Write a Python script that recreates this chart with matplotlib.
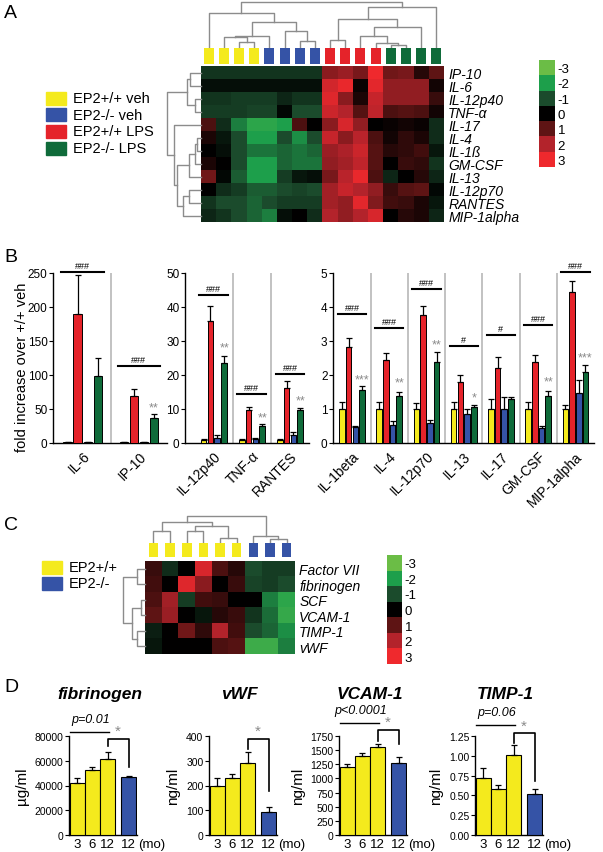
import numpy as np
import matplotlib
matplotlib.use("Agg")
import matplotlib.pyplot as plt
from matplotlib.colors import LinearSegmentedColormap
from matplotlib.patches import Rectangle

plt.rcParams['font.family'] = ['Liberation Sans', 'DejaVu Sans']
plt.rcParams['axes.linewidth'] = 1.0

W, H = 603, 853

# colours
hm_colors = ['#6bbd46', '#1d9f4c', '#1b4b2c', '#000000', '#5e1414', '#b3232b', '#ef292d']
grp_colors = ['#f4ea1d', '#3553a6', '#e5232a', '#0f6b3a']
cmap = LinearSegmentedColormap.from_list('gr', hm_colors)

# ---------------- panel A data ----------------
a_rows = ['IP-10', 'IL-6', 'IL-12p40', 'TNF-α', 'IL-17', 'IL-4', 'IL-1ß', 'GM-CSF',
          'IL-13', 'IL-12p70', 'RANTES', 'MIP-1alpha']
a_groups = ['EP2+/+ veh', 'EP2-/- veh', 'EP2+/+ LPS', 'EP2-/- LPS']
a_sample_group = [0, 0, 0, 0, 1, 1, 1, 1, 2, 2, 2, 2, 3, 3, 3, 3]
a_values = [
    [-0.7, -0.7, -0.7, -0.7, -0.7, -0.7, -0.7, -0.7, 1.5, 1.7, 1.3, 3.0, 1.2, 1.3, 0.4, 1.0],
    [-0.2, -0.2, -0.2, -0.2, -0.2, -0.2, -0.2, -0.2, 2.5, 2.9, 0.1, 2.8, 1.6, 1.6, 1.6, 0.2],
    [-0.7, -0.7, -0.8, -0.8, -0.8, -0.5, -0.7, -0.7, 2.7, 1.5, 0.3, 2.3, 1.6, 1.6, 1.6, 0.6],
    [-0.8, -0.8, -0.8, -0.9, -0.9, -0.1, -1.0, -1.0, 2.4, 2.0, 0.9, 2.2, 0.8, 0.9, 0.8, 0.2],
    [0.8, -0.6, -1.6, -2.2, -2.2, -2.0, 0.8, 0.0, 1.5, 2.6, 1.6, 0.0, 0.1, 0.2, 0.1, -0.6],
    [0.3, -0.3, -1.0, -2.0, -2.0, -1.0, -1.8, -1.0, 2.3, 1.5, 2.1, 0.8, 0.2, 0.5, 0.3, -0.6],
    [0.0, -0.2, -1.0, -1.5, -1.5, -1.3, -1.5, -1.3, 1.7, 1.9, 2.4, 0.9, 0.4, 0.5, 0.7, -0.3],
    [0.3, 0.0, -1.0, -2.0, -2.0, -1.3, -1.5, -1.5, 1.6, 1.8, 2.2, 0.9, 0.0, 0.6, 0.5, -0.7],
    [1.2, -0.1, -1.2, -2.0, -2.0, -0.8, -0.3, -0.2, 1.3, 2.1, 2.9, 0.8, -0.5, 0.0, 0.4, -0.5],
    [0.0, -0.6, -0.8, -1.2, -1.2, -1.0, -0.9, -1.0, 1.8, 2.3, 2.0, 1.6, 0.6, 0.9, 1.0, -0.1],
    [-0.7, -1.0, -1.0, -1.3, -1.0, -0.8, -0.8, -0.8, 1.8, 1.6, 2.8, 1.4, 0.7, 0.6, 0.3, -0.3],
    [-0.5, -0.7, -1.0, -1.3, -1.6, -0.2, 0.0, -0.6, 2.0, 1.6, 2.0, 2.6, 0.0, 0.4, 0.3, -0.5],
]
# clustering trees: (child a, child b, merge height), new nodes numbered after the leaves
a_col_merges = [(2, 3, 15), (1, 16, 30), (17, 4, 33), (6, 7, 17), (5, 19, 50), (18, 20, 77),
                (0, 21, 103), (12, 13, 5), (11, 23, 12), (10, 24, 33), (25, 14, 60),
                (8, 9, 20), (27, 26, 85), (28, 15, 123), (22, 29, 137)]
a_row_merges = [(0, 1, 28), (2, 3, 15), (12, 13, 35), (5, 6, 10), (15, 7, 16), (16, 8, 30),
                (9, 10, 30), (18, 11, 47), (17, 19, 62), (4, 20, 70), (14, 21, 88)]

# ---------------- panel B data ----------------
b_labels = ['IL-6', 'IP-10', 'IL-12p40', 'TNF-α', 'RANTES', 'IL-1beta', 'IL-4',
            'IL-12p70', 'IL-13', 'IL-17', 'GM-CSF', 'MIP-1alpha']
b_panel = [0, 0, 1, 1, 1, 2, 2, 2, 2, 2, 2, 2]
b_veh_wt = [1, 1, 1, 1, 1, 1, 1, 1, 1, 1, 1, 1]
b_veh_ko = [1, 1, 1.5, 1.2, 2.5, 0.47, 0.53, 0.58, 0.86, 1.0, 0.45, 1.47]
b_lps_wt = [190, 69, 35.9, 9.7, 16.2, 2.83, 2.44, 3.76, 1.79, 2.2, 2.39, 4.44]
b_lps_ko = [98.5, 37, 23.5, 5.0, 9.7, 1.56, 1.38, 2.38, 1.07, 1.28, 1.38, 2.08]
b_veh_wt_err = [0.5, 0.5, 0.2, 0.2, 0.2, 0.2, 0.22, 0.18, 0.2, 0.3, 0.22, 0.13]
b_veh_ko_err = [0.3, 0.3, 0.8, 0.4, 0.8, 0.03, 0.12, 0.1, 0.15, 0.35, 0.05, 0.39]
b_lps_wt_err = [57, 10, 4.4, 0.9, 2.0, 0.25, 0.21, 0.26, 0.2, 0.32, 0.2, 0.32]
b_lps_ko_err = [26.5, 6, 2.1, 0.6, 0.7, 0.12, 0.13, 0.29, 0.06, 0.07, 0.16, 0.21]
b_hash = ['###', '###', '###', '###', '###', '###', '###', '###', '#', '#', '###', '###']
b_hash_y = [251, 113, 43.5, 14.4, 20.3, 3.8, 3.38, 4.53, 2.85, 3.18, 3.47, 5.03]
b_star = ['', '**', '**', '**', '**', '***', '**', '**', '*', '', '**', '***']
b_star_y = [0, 53, 28.2, 7.6, 12.6, 1.88, 1.79, 2.91, 1.35, 0, 1.8, 2.53]
b_ymax = [250, 50, 5]
b_ystep = [50, 10, 1]

# ---------------- panel C data ----------------
c_rows = ['Factor VII', 'fibrinogen', 'SCF', 'VCAM-1', 'TIMP-1', 'vWF']
c_groups = ['EP2+/+', 'EP2-/-']
c_sample_group = [0, 0, 0, 0, 0, 0, 1, 1, 1]
c_values = [
    [0.6, -0.6, 0.0, 2.6, 0.8, 0.4, -1.0, -0.8, -0.8],
    [0.7, 0.0, 2.7, 1.5, 0.0, 0.6, -0.9, -0.8, -1.0],
    [0.8, 1.8, -0.8, 0.7, 0.6, 0.0, 0.0, -1.6, -2.2],
    [1.0, 1.7, 0.0, -0.3, 0.4, 0.6, -0.7, -1.4, -2.3],
    [-0.4, 0.0, 1.2, 0.5, 2.0, 0.7, -1.0, -1.3, -1.8],
    [-0.3, 0.0, 0.0, 0.0, 0.8, 0.9, -2.4, -2.4, -1.6],
]
c_col_merges = [(0, 1, 35), (2, 3, 35), (4, 5, 13), (10, 11, 48), (9, 12, 63),
                (7, 8, 10), (6, 14, 20), (13, 15, 80)]
c_row_merges = [(0, 1, 7.7), (2, 3, 4), (4, 5, 7.7), (7, 8, 13.5), (6, 9, 22)]

# ---------------- panel D data ----------------
d_titles = ['fibrinogen', 'vWF', 'VCAM-1', 'TIMP-1']
d_units = ['µg/ml', 'ng/ml', 'ng/ml', 'ng/ml']
d_ages = ['3', '6', '12', '12']
d_bar_group = [0, 0, 0, 1]
d_means = [[41900, 52300, 61700, 47000], [196, 232, 289, 94],
           [1210, 1398, 1556, 1280], [0.726, 0.587, 1.007, 0.516]]
d_errs = [[4000, 3000, 5700, 800], [33, 13, 48, 19],
          [41, 47, 58, 106], [0.117, 0.046, 0.13, 0.063]]
d_yticks = [[0, 20000, 40000, 60000, 80000], [0, 100, 200, 300, 400],
            [0, 250, 500, 750, 1000, 1250, 1500, 1750],
            [0.0, 0.25, 0.5, 0.75, 1.0, 1.25]]
d_ytick_fmt = ['{:.0f}', '{:.0f}', '{:.0f}', '{:.2f}']
d_pvals = ['p=0.01', '', 'p<0.0001', 'p=0.06']
d_pline_y = [83500, 0, 1973, 1.388]
d_bracket_top = [77800, 389, 1856, 1.284]
d_bracket_left = [72000, 346, 1662, 1.166]
d_bracket_right = [55000, 178, 1603, 0.684]

fig = plt.figure(figsize=(W / 100, H / 100), dpi=100)


def px_axes(x0, y0, x1, y1):
    return fig.add_axes([x0 / W, 1 - y1 / H, (x1 - x0) / W, (y1 - y0) / H])


ov = fig.add_axes([0, 0, 1, 1])
ov.set_xlim(0, W)
ov.set_ylim(H, 0)
ov.axis('off')


def heatmap(box, values, rows, fs):
    ax = px_axes(*box)
    ax.imshow(np.array(values), cmap=cmap, vmin=-3, vmax=3, aspect='auto',
              interpolation='nearest')
    ax.set_xticks([])
    ax.yaxis.tick_right()
    ax.set_yticks(range(len(rows)))
    ax.set_yticklabels(rows, fontsize=fs, style='italic')
    ax.tick_params(axis='y', length=0, pad=3)
    for s in ax.spines.values():
        s.set_visible(False)
    return ax


def sample_squares(box, groups, colors, width):
    ax = px_axes(*box)
    n = len(groups)
    ax.bar(range(n), 1, width=width, color=[colors[g] for g in groups])
    ax.set_xlim(-0.5, n - 0.5)
    ax.set_ylim(0, 1)
    ax.axis('off')


def dendro(box, merges, n, orient):
    ax = px_axes(*box)
    pos = {i: float(i) for i in range(n)}
    hgt = {i: 0.0 for i in range(n)}
    for k, (a, b, h) in enumerate(merges):
        xs = [pos[a], pos[a], pos[b], pos[b]]
        ys = [hgt[a], h, h, hgt[b]]
        if orient == 'top':
            ax.plot(xs, ys, color='#8c8c8c', lw=1.0, clip_on=False)
        else:
            ax.plot(ys, xs, color='#8c8c8c', lw=1.0, clip_on=False)
        pos[n + k] = (pos[a] + pos[b]) / 2
        hgt[n + k] = h
    hmax = max(m[2] for m in merges)
    if orient == 'top':
        ax.set_xlim(-0.5, n - 0.5)
        ax.set_ylim(0, hmax)
    else:
        ax.set_ylim(n - 0.5, -0.5)
        ax.set_xlim(hmax, 0)
    ax.axis('off')


def colorkey(box, fs):
    ax = px_axes(*box)
    levels = np.arange(-3, 4)
    ax.imshow(levels[:, None], cmap=cmap, vmin=-3, vmax=3, aspect='auto')
    ax.set_xticks([])
    ax.yaxis.tick_right()
    ax.set_yticks(range(7))
    ax.set_yticklabels([str(v) for v in levels], fontsize=fs)
    ax.tick_params(length=0, pad=2)
    for s in ax.spines.values():
        s.set_visible(False)


def legend(x, y0, pitch, labels, colors, fs):
    for i, lab in enumerate(labels):
        yc = y0 + i * pitch
        ov.add_patch(Rectangle((x, yc - 6.5), 20, 13, color=colors[i]))
        ov.text(x + 27, yc, lab, fontsize=fs, va='center', ha='left')


# ---------------- panel A ----------------
ov.text(4, 13, 'A', fontsize=14, va='center')
dendro((201, 3, 444, 48), a_col_merges, 16, 'top')
sample_squares((201, 49, 444, 65), a_sample_group, grp_colors, 0.66)
heatmap((201, 67, 444, 223), a_values, a_rows, 10)
dendro((167, 67, 201, 223), a_row_merges, 12, 'left')
colorkey((539, 61, 555, 168), 9.5)
legend(46, 99, 16.7, a_groups, grp_colors, 10.5)

# ---------------- panel B ----------------
ov.text(4, 257, 'B', fontsize=14, va='center')
b_boxes = [(53, 274, 167, 444), (185, 274, 309, 444), (333, 274, 594, 444)]
b_xlims = [(-0.53, 1.5), (-0.76, 2.5), (-0.51, 6.5)]
series = [(b_veh_wt, b_veh_wt_err), (b_lps_wt, b_lps_wt_err),
          (b_veh_ko, b_veh_ko_err), (b_lps_ko, b_lps_ko_err)]
offsets = [-0.27, -0.09, 0.09, 0.27]
b_axes = []
for p in range(3):
    ax = px_axes(*b_boxes[p])
    b_axes.append(ax)
    idx = [i for i in range(len(b_labels)) if b_panel[i] == p]
    x = np.arange(len(idx))
    for s, (vals, errs) in enumerate(series):
        v = np.array([vals[i] for i in idx])
        e = np.array([errs[i] for i in idx])
        col = grp_colors[[0, 2, 1, 3][s]]
        ax.bar(x + offsets[s], v, width=0.15, color=col, edgecolor='black', lw=0.7, zorder=3)
        ax.errorbar(x + offsets[s], v, yerr=[np.zeros_like(e), e], fmt='none',
                    ecolor='black', elinewidth=0.9, capsize=2, capthick=0.9, zorder=4)
    for j in range(len(idx) - 1):
        ax.axvline(j + 0.5, color='#b8b8b8', lw=1.2, zorder=1)
    for j, i in enumerate(idx):
        ax.plot([j - 0.38, j + 0.38], [b_hash_y[i]] * 2, color='black', lw=1.5,
                clip_on=False, zorder=5)
        ax.text(j, b_hash_y[i] + b_ymax[p] * 0.012, b_hash[i], fontsize=6.5,
                ha='center', va='bottom')
        if b_star[i]:
            ax.text(j + 0.27, b_star_y[i], b_star[i], fontsize=9, color='#8a8a8a',
                    ha='center', va='center')
    ax.set_xlim(*b_xlims[p])
    ax.set_ylim(0, b_ymax[p])
    ax.set_yticks(np.arange(0, b_ymax[p] + 0.001, b_ystep[p]))
    ax.set_xticks(x)
    ax.set_xticklabels([b_labels[i] for i in idx], rotation=45, ha='right',
                       rotation_mode='anchor', fontsize=10)
    ax.tick_params(axis='x', length=0, pad=4)
    ax.tick_params(axis='y', length=3, labelsize=8.5, pad=1)
    ax.spines['top'].set_visible(False)
    ax.spines['right'].set_visible(False)
b_axes[0].set_ylabel('fold increase over +/+ veh', fontsize=10.5)
b_axes[0].yaxis.set_label_coords(-0.21, 0.45)

# ---------------- panel C ----------------
ov.text(4, 525, 'C', fontsize=14, va='center')
dendro((145, 517, 295, 543), c_col_merges, 9, 'top')
sample_squares((145, 544, 295, 558), c_sample_group, grp_colors, 0.58)
heatmap((145, 562, 295, 655), c_values, c_rows, 10)
dendro((123, 562, 145, 655), c_row_merges, 6, 'left')
colorkey((387, 556, 402, 665), 9.5)
legend(42, 568, 16, c_groups, grp_colors, 10.5)

# ---------------- panel D ----------------
ov.text(4, 688, 'D', fontsize=14, va='center')
d_boxes = [(69, 737, 137, 836), (209, 737, 277, 836), (339, 737, 407, 836), (475, 737, 543, 836)]
d_x = np.array([0, 1, 2, 3.4])
for p in range(4):
    ax = px_axes(*d_boxes[p])
    top = d_yticks[p][-1]
    ax.bar(d_x, d_means[p], width=1.0, color=[grp_colors[g] for g in d_bar_group],
           edgecolor='black', lw=0.8, zorder=3)
    ax.errorbar(d_x, d_means[p], yerr=[np.zeros(4), d_errs[p]], fmt='none',
                ecolor='black', elinewidth=0.9, capsize=2.5, capthick=0.9, zorder=4)
    # bracket 12 mo +/+ vs -/-
    ax.plot([2, 2, 3.4, 3.4], [d_bracket_left[p], d_bracket_top[p], d_bracket_top[p],
                               d_bracket_right[p]], color='black', lw=1.2, clip_on=False)
    ax.text(2.7, d_bracket_top[p] + top * 0.01, '*', fontsize=11, color='#8a8a8a',
            ha='center', va='bottom')
    if d_pvals[p]:
        ax.plot([-0.5, 2.1], [d_pline_y[p]] * 2, color='black', lw=1.0, clip_on=False)
        ax.text(0.9, d_pline_y[p] + top * 0.07, d_pvals[p], fontsize=9, style='italic',
                ha='center', va='bottom')
    ax.set_xlim(-0.55, 3.95)
    ax.set_ylim(0, top)
    ax.set_yticks(d_yticks[p])
    ax.set_yticklabels([d_ytick_fmt[p].format(t) for t in d_yticks[p]])
    ax.set_xticks(d_x)
    ax.set_xticklabels(d_ages, fontsize=9.5)
    ax.tick_params(axis='x', length=0, pad=2)
    ax.tick_params(axis='y', length=3, labelsize=7.5, pad=1)
    ax.spines['top'].set_visible(False)
    ax.spines['right'].set_visible(False)
    ax.text(4.05, -top * 0.035, '(mo)', fontsize=9.5, ha='left', va='top')
    ax.text(0.45, 1.43, d_titles[p], transform=ax.transAxes, fontsize=12.5,
            fontweight='bold', style='italic', ha='center', va='center')
    ax.set_ylabel(d_units[p], fontsize=11)

fig.savefig('out.png', dpi=100)
